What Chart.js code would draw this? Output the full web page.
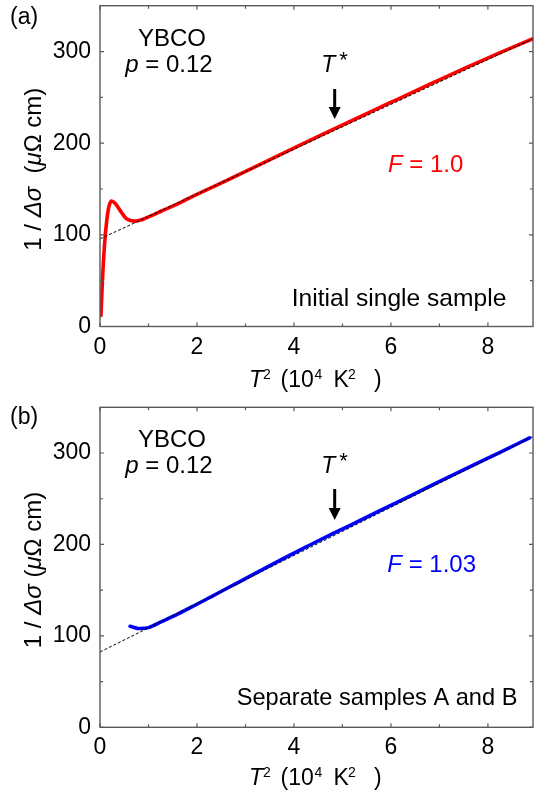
<!DOCTYPE html>
<html>
<head>
<meta charset="utf-8">
<script src="https://cdn.jsdelivr.net/npm/chart.js@4"></script>
<style>
  html, body { margin: 0; padding: 0; background: #fff; }
  #wrap { position: relative; width: 534px; height: 797px; overflow: hidden; }
  canvas { position: absolute; left: 0; }
</style>
</head>
<body>
<div id="wrap">
  <canvas id="panelA" width="534" height="398" style="top:0"></canvas>
  <canvas id="panelB" width="534" height="399" style="top:398px"></canvas>
</div>
<script>
// T^2 in units of 10^4 K^2, 1/Δσ in μΩ cm

// (a) initial single sample
const t2A = [0.02, 0.05, 0.09, 0.14, 0.19, 0.24, 0.31, 0.41, 0.52, 0.58, 0.72, 0.86,
             1.06, 1.27, 1.61, 1.85, 2.54, 3.23, 3.91, 4.60, 5.49, 6.18, 6.87, 7.55, 8.24, 8.93];
const invDsA = [12, 50, 87, 116, 132, 137, 134.5, 127, 119, 116.5, 115, 116.5,
                121, 126, 134, 140.3, 157.5, 175, 192.5, 210, 232, 249, 266, 282.5, 298.5, 314];

// (b) separate samples A and B
const t2B = [0.62, 0.69, 0.79, 0.90, 1.00, 1.27, 1.61, 1.96, 2.30, 2.64, 2.99, 3.33,
             3.67, 4.02, 4.36, 4.81, 5.49, 6.18, 6.87, 7.55, 8.24, 8.86];
const invDsB = [110.5, 109.5, 108, 108.3, 109, 115.5, 124, 133.5, 143, 152.6, 162.4, 172,
                181.5, 191, 200.2, 212, 229.5, 247.5, 265.3, 283, 300.5, 316.6];

// straight-line extrapolations (dashed)
const fitT2 = [0, 8.93];
const fitA = [95.6, 314.0];
const fitB = [82.4, 318.0];

// T* marker position
const tStar = 4.84;

// axes
const xMax = 8.93;
const yMax = 350;
const xTickValues = [0, 2, 4, 6, 8];
const xMinorValues = [1, 3, 5, 7];
const yTickValues = [0, 100, 200, 300];
const yMinorValues = [50, 150, 250];

const FAMILY = '"Liberation Sans", Arial, Helvetica, sans-serif';
const AXIS_GRAY = '#5a5a5a';

function font(size, italic) {
  return (italic ? 'italic ' : '') + size + 'px ' + FAMILY;
}

// draw a sequence of text runs left to right; a run with "at" starts at that x
function drawRuns(ctx, x, y, parts, measureOnly) {
  for (const p of parts) {
    if (p.at !== undefined) x = p.at;
    x += p.gap || 0;
    ctx.font = font(p.size, p.it);
    if (!measureOnly) ctx.fillText(p.t, x, y + (p.dy || 0));
    x += ctx.measureText(p.t).width;
  }
  return x;
}

function runsWidth(ctx, parts) {
  return drawRuns(ctx, 0, 0, parts, true);
}

function decorations(cfg) {
  return {
    id: 'decor' + cfg.tag,
    afterDatasetsDraw(chart) {
      const ctx = chart.ctx;
      const a = chart.chartArea;
      const xs = chart.scales.x, ys = chart.scales.y;
      ctx.save();

      // frame
      ctx.strokeStyle = AXIS_GRAY;
      ctx.lineWidth = 1.4;
      ctx.strokeRect(a.left, a.top, a.right - a.left, a.bottom - a.top);

      // inward tick marks on all four sides
      ctx.lineWidth = 1.2;
      const tickX = (v, len) => {
        const px = xs.getPixelForValue(v);
        ctx.beginPath();
        ctx.moveTo(px, a.bottom); ctx.lineTo(px, a.bottom - len);
        ctx.moveTo(px, a.top); ctx.lineTo(px, a.top + len);
        ctx.stroke();
      };
      const tickY = (v, len) => {
        const py = ys.getPixelForValue(v);
        ctx.beginPath();
        ctx.moveTo(a.left, py); ctx.lineTo(a.left + len, py);
        ctx.moveTo(a.right, py); ctx.lineTo(a.right - len, py);
        ctx.stroke();
      };
      xTickValues.forEach(v => tickX(v, 4));
      xMinorValues.forEach(v => tickX(v, 3));
      yTickValues.forEach(v => tickY(v, 4));
      yMinorValues.forEach(v => tickY(v, 3));

      ctx.fillStyle = '#000';
      ctx.textBaseline = 'alphabetic';
      ctx.textAlign = 'left';

      // panel letter
      drawRuns(ctx, 10, cfg.letterY, [{ t: cfg.letter, size: 23 }]);

      // compound and doping
      const yb = [{ t: 'YBCO', size: 24 }];
      drawRuns(ctx, 172 - runsWidth(ctx, yb) / 2, cfg.ybcoY, yb);
      const pp = [{ t: 'p', size: 24, it: true }, { t: ' = 0.12', size: 24 }];
      drawRuns(ctx, 169 - runsWidth(ctx, pp) / 2, cfg.pY, pp);

      // T* label and arrow
      const ax = xs.getPixelForValue(tStar);
      drawRuns(ctx, ax - 13.5, cfg.tStarY, [
        { t: 'T', size: 23, it: true },
        { t: '*', size: 22, dy: -5, gap: 4 }
      ]);
      ctx.strokeStyle = '#000';
      ctx.lineWidth = 3;
      ctx.beginPath();
      ctx.moveTo(ax, cfg.arrowTop);
      ctx.lineTo(ax, cfg.arrowTip - 10);
      ctx.stroke();
      ctx.beginPath();
      ctx.moveTo(ax - 6, cfg.arrowTip - 12);
      ctx.lineTo(ax + 6, cfg.arrowTip - 12);
      ctx.lineTo(ax, cfg.arrowTip);
      ctx.closePath();
      ctx.fill();

      // F value
      ctx.fillStyle = cfg.color;
      drawRuns(ctx, cfg.fX, cfg.fY, [
        { t: 'F', size: 24, it: true },
        { t: ' = ' + cfg.fText, size: 24 }
      ]);

      // sample description
      ctx.fillStyle = '#000';
      drawRuns(ctx, cfg.noteX, cfg.noteY, [{ t: cfg.note, size: cfg.noteSize }]);

      // x-axis title
      drawRuns(ctx, 0, cfg.xTitleY, [
        { t: 'T', size: 23, it: true, at: 249 },
        { t: '2', size: 14, dy: -8, at: 263 },
        { t: '(10', size: 23, at: 280.5 },
        { t: '4', size: 14, dy: -8, at: 314.5 },
        { t: 'K', size: 23, at: 333.5 },
        { t: '2', size: 14, dy: -8, at: 348 },
        { t: ')', size: 23, at: 374 }
      ]);

      // y-axis title, rotated
      const yt = [
        { t: '1 / ', size: 24 },
        { t: 'Δσ', size: 24, it: true },
        { t: cfg.yGap + '(', size: 24 },
        { t: 'μ', size: 24, it: true },
        { t: 'Ω cm)', size: 24 }
      ];
      ctx.save();
      ctx.translate(41, cfg.yTitleMid);
      ctx.rotate(-Math.PI / 2);
      drawRuns(ctx, -runsWidth(ctx, yt) / 2, 0, yt);
      ctx.restore();

      ctx.restore();
    }
  };
}

function makePanel(cfg) {
  const tickFont = { family: FAMILY, size: 23 };
  return new Chart(document.getElementById(cfg.id), {
    type: 'line',
    data: {
      datasets: [
        {
          data: fitT2.map((x, i) => ({ x, y: cfg.fit[i] })),
          borderColor: '#000',
          borderWidth: 1,
          borderDash: [3, 2],
          pointRadius: 0,
          tension: 0
        },
        {
          data: cfg.x.map((x, i) => ({ x, y: cfg.y[i] })),
          borderColor: cfg.color,
          borderWidth: 3.6,
          pointRadius: 0,
          cubicInterpolationMode: 'monotone',
          borderCapStyle: 'round',
          borderJoinStyle: 'round'
        }
      ]
    },
    options: {
      responsive: false,
      devicePixelRatio: 1,
      animation: false,
      events: [],
      layout: { padding: { top: cfg.padTop, right: 1, left: 0, bottom: 0 } },
      plugins: { legend: { display: false }, tooltip: { enabled: false } },
      scales: {
        x: {
          type: 'linear',
          min: 0,
          max: xMax,
          afterBuildTicks: s => { s.ticks = xTickValues.map(v => ({ value: v })); },
          afterFit: s => {
            s.height = cfg.xAxisH;
            s.paddingLeft = 0; s.paddingRight = 0;
          },
          grid: { display: false, drawTicks: false, tickLength: 0 },
          border: { display: false },
          ticks: { font: tickFont, color: '#000', padding: 7, maxRotation: 0, autoSkip: false }
        },
        y: {
          type: 'linear',
          min: 0,
          max: yMax,
          afterBuildTicks: s => { s.ticks = yTickValues.map(v => ({ value: v })); },
          afterFit: s => {
            s.width = 100;
            s.paddingTop = 0; s.paddingBottom = 0;
          },
          grid: { display: false, drawTicks: false, tickLength: 0 },
          border: { display: false },
          ticks: { font: tickFont, color: '#000', padding: 9, autoSkip: false }
        }
      }
    },
    plugins: [decorations(cfg)]
  });
}

makePanel({
  id: 'panelA', tag: 'A', letter: '(a)', letterY: 23.5,
  x: t2A, y: invDsA, fit: fitA, color: '#ff0000',
  padTop: 5.7, xAxisH: 71.5,
  ybcoY: 45.7, pY: 71.7, tStarY: 71.7, arrowTop: 89, arrowTip: 119,
  fText: '1.0', fX: 388, fY: 171.7,
  note: 'Initial single sample', noteSize: 24.6, noteX: 291.7, noteY: 305.5,
  xTitleY: 386.5, yTitleMid: 169.2, yGap: '  '
});

makePanel({
  id: 'panelB', tag: 'B', letter: '(b)', letterY: 26.3,
  x: t2B, y: invDsB, fit: fitB, color: '#0000ff',
  padTop: 9.3, xAxisH: 69.7,
  ybcoY: 48.7, pY: 75.3, tStarY: 75.3, arrowTop: 91, arrowTip: 122,
  fText: '1.03', fX: 387.3, fY: 173.7,
  note: 'Separate samples A and B', noteSize: 23.6, noteX: 236.7, noteY: 307,
  xTitleY: 386.5, yTitleMid: 172, yGap: ' '
});
</script>
</body>
</html>
